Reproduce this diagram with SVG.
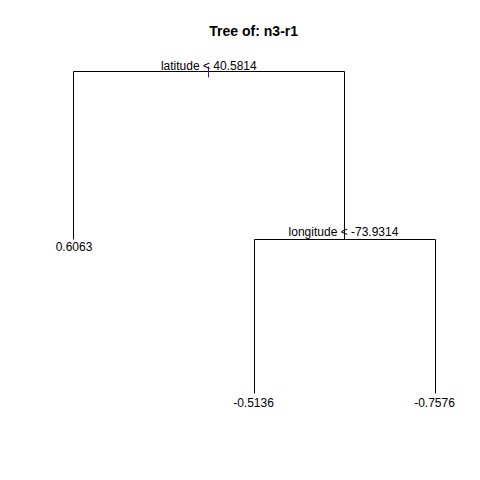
<svg xmlns="http://www.w3.org/2000/svg" width="480" height="480" viewBox="0 0 480 480">
<style>
.e{stroke:#000;stroke-width:1;fill:none}
.t{font-family:"Liberation Sans",Arial,sans-serif;font-size:12px;fill:#000;text-anchor:middle}
.title{font-family:"Liberation Sans",Arial,sans-serif;font-size:14px;font-weight:bold;fill:#000;text-anchor:middle}
</style>
<rect width="480" height="480" fill="#fff"/>
<text class="title" x="253.7" y="35.5">Tree of: n3-r1</text>
<g id="connectors">
<path class="e" d="M73.5,239.5 V71.5 H344.5 V239.5"/>
<path class="e" d="M254.5,393.5 V239.5 H435.5 V393.5"/>
<line x1="208.5" y1="66.5" x2="208.5" y2="77.5" stroke="#6a0a6a" stroke-width="1"/>
</g>
<g id="n1"><text class="t" x="208.8" y="69.5">latitude &lt; 40.5814</text></g>
<g id="n2"><text class="t" x="74" y="251">0.6063</text></g>
<g id="n3"><text class="t" x="343.5" y="236">longitude &lt; -73.9314</text></g>
<g id="n4"><text class="t" x="253.5" y="406.5">-0.5136</text></g>
<g id="n5"><text class="t" x="434.5" y="406.5">-0.7576</text></g>
</svg>
